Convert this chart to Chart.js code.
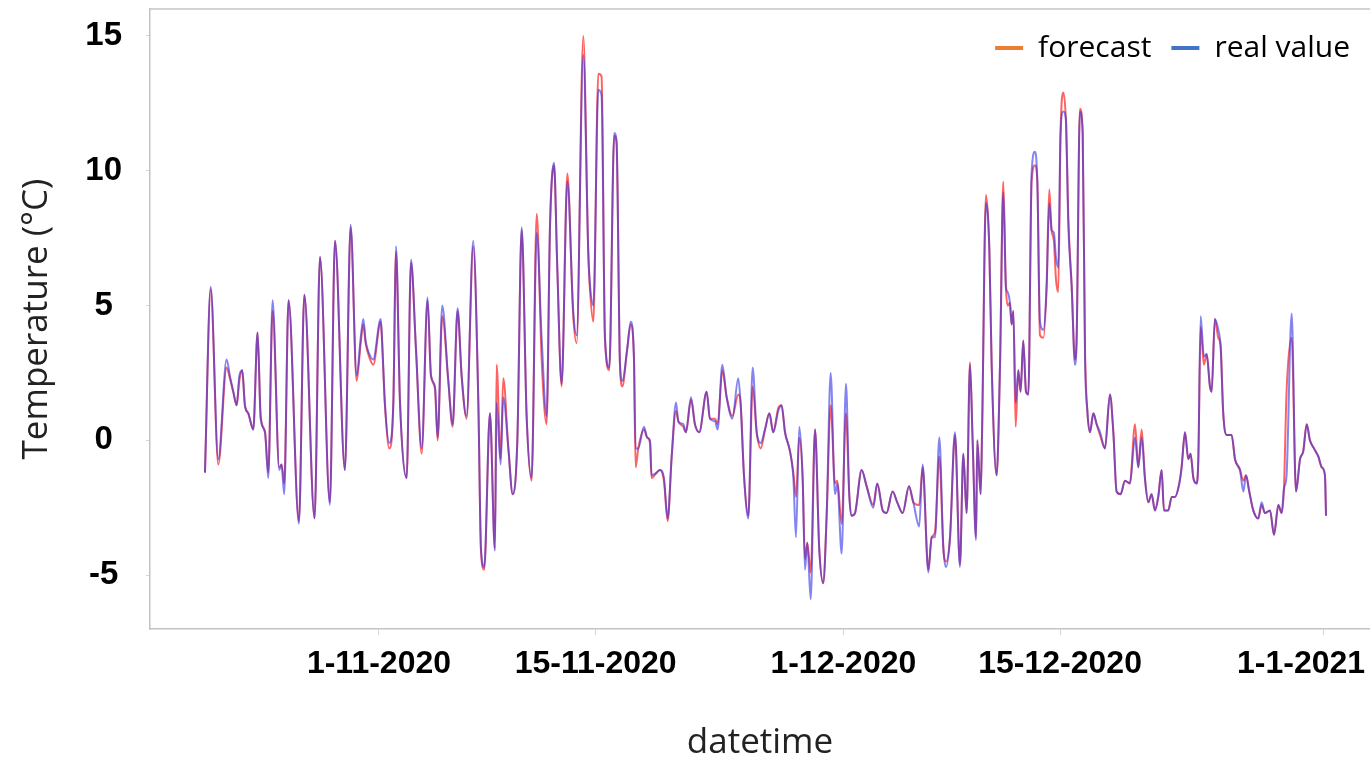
<!DOCTYPE html>
<html>
<head>
<meta charset="utf-8">
<script src="https://cdn.jsdelivr.net/npm/chart.js@4.4.1/dist/chart.umd.min.js"></script>
<style>
  html, body { margin: 0; padding: 0; background: #fff; }
  #chart { display: block; }
</style>
</head>
<body>
<canvas id="chart" width="1370" height="759"></canvas>
<script>
// day offset from 1-11-2020
const days = [
  -11.24, -10.87, -10.38, -9.84, -9.63, -9.41, -9.19, -9.02, -8.83, -8.66, -8.44, -8.12, -7.84, -7.64, -7.36, -7.15,
  -6.87, -6.44, -6.29, -6.12, -5.84, -5.17, -4.82, -4.16, -3.81, -3.17, -2.84, -2.20, -1.83, -1.44, -1.18, -1.01,
  -0.86, -0.69, -0.37, 0.11, 0.17, 0.39, 0.67, 0.93, 1.10, 1.36, 1.79, 2.07, 2.39, 2.76, 3.14, 3.36, 3.62, 3.79,
  4.09, 4.48, 4.76, 5.08, 5.34, 5.66, 6.09, 6.42, 6.59, 6.80, 7.17, 7.49, 7.60, 7.86, 8.03, 8.36, 8.64, 8.94,
  9.22, 9.54, 9.86, 10.19, 10.51, 10.83, 11.05, 11.31, 11.52, 11.80, 12.17, 12.55, 12.77, 13.20, 13.52, 13.63,
  13.85, 14.17, 14.38, 14.60, 14.88, 15.20, 15.35, 15.57, 15.72, 16.04, 16.26, 16.47, 16.58, 16.75, 17.12, 17.33,
  17.51, 17.61, 17.94, 18.15, 18.41, 18.65, 18.91, 19.19, 19.34, 19.66, 19.83, 20.16, 20.41, 20.69, 21.17, 21.38,
  21.71, 21.88, 22.18, 22.46, 22.83, 23.21, 23.36, 23.58, 23.86, 24.14, 24.40, 24.66, 24.94, 25.22, 25.47, 25.80,
  26.01, 26.23, 26.55, 26.77, 26.94, 27.15, 27.37, 27.52, 27.67, 27.89, 28.17, 28.44, 28.70, 28.92, 29.18, 29.46,
  29.61, 29.89, 30.17, 30.38, 30.53, 30.75, 31.18, 31.50, 31.93, 32.19, 32.54, 32.79, 33.18, 33.48, 33.83, 34.24,
  34.52, 34.90, 35.12, 35.49, 35.70, 35.92, 36.20, 36.46, 36.63, 36.89, 37.21, 37.53, 37.75, 37.96, 38.18, 38.35,
  38.57, 38.65, 38.87, 38.96, 39.21, 39.43, 39.58, 39.90, 40.12, 40.33, 40.50, 40.61, 40.76, 40.87, 40.98, 41.13,
  41.30, 41.45, 41.62, 41.80, 41.95, 42.16, 42.38, 42.53, 42.70, 42.92, 43.13, 43.30, 43.45, 43.60, 43.73, 43.88,
  44.03, 44.21, 44.38, 44.53, 44.75, 44.96, 45.07, 45.28, 45.46, 45.61, 45.76, 45.93, 46.15, 46.36, 46.58, 46.90,
  47.22, 47.44, 47.65, 47.91, 48.19, 48.51, 48.84, 49.05, 49.27, 49.48, 49.70, 49.91, 50.13, 50.34, 50.56, 50.71,
  50.99, 51.21, 51.42, 51.70, 51.85, 52.07, 52.28, 52.43, 52.61, 52.82, 52.93, 53.08, 53.29, 53.47, 53.68, 53.79,
  54.00, 54.22, 54.37, 54.54, 54.76, 55.08, 55.30, 55.62, 55.84, 56.01, 56.22, 56.48, 56.80, 57.02, 57.23, 57.56,
  57.82, 58.10, 58.31, 58.46, 58.63, 58.96, 59.24, 59.50, 59.71, 59.93, 60.14, 60.40, 60.68, 60.90, 61.11, 61.18
];

const realValue = [
  -1.2, 5.7, -0.7, 3.0, 2.4, 1.8, 1.3, 2.4, 2.6, 1.3, 1.0, 0.4, 4.0, 0.8, 0.3, -1.4,
  5.2, -1.1, -0.9, -2.0, 5.2, -3.1, 5.4, -2.9, 6.8, -2.4, 7.4, -1.1, 8.0, 2.4, 3.8, 4.5,
  3.7, 3.3, 3.0, 4.5, 4.1, 1.3, -0.1, 1.4, 7.2, 1.4, -1.4, 6.7, 3.4, -0.3, 5.3, 2.4, 2.0, 0.1,
  5.0, 2.2, 0.6, 4.9, 2.4, 0.9, 7.4, 1.4, -4.0, -4.7, 1.0, -4.1, 1.4, -0.9, 1.6, -0.3, -2.0, 0.0,
  7.9, 0.9, -1.4, 7.7, 3.8, 0.9, 8.0, 10.3, 6.4, 2.1, 9.6, 4.8, 3.9, 14.3, 7.0, 5.8,
  5.0, 13.0, 12.8, 3.8, 2.7, 11.4, 11.1, 2.8, 2.2, 3.4, 4.4, 3.1, -0.3, -0.3, 0.5, 0.1,
  0.0, -1.3, -1.2, -1.1, -1.4, -2.9, -0.6, 1.4, 0.7, 0.6, 0.3, 1.6, 0.6, 0.3, 1.8, 0.8,
  0.7, 0.4, 2.8, 1.6, 0.8, 2.3, 1.4, -1.3, -2.9, 2.7, 0.3, -0.1, 0.4, 1.0, 0.3, 1.1,
  1.3, 0.3, -0.4, -1.4, -3.6, 0.5, -1.4, -4.8, -3.8, -5.9, 0.4, -4.0, -5.3, -2.8, 2.5, -2.0,
  -1.6, -4.2, 2.1, -2.0, -2.8, -2.7, -1.1, -1.7, -2.5, -1.6, -2.6, -2.7, -1.9, -2.3, -2.7, -1.7,
  -2.3, -3.2, -0.9, -4.9, -3.6, -3.6, 0.1, -4.0, -4.7, -3.6, 0.3, -4.7, -0.5, -2.7, 2.8, 0.0,
  -3.7, 0.0, -2.0, 0.3, 8.8, 7.1, 2.8, -1.3, 2.8, 9.2, 5.7, 5.5, 5.1, 4.3, 4.8, 1.4,
  2.6, 1.8, 3.7, 1.8, 1.7, 9.9, 10.7, 9.6, 4.4, 4.1, 5.7, 8.8, 7.8, 7.7, 6.8, 6.4,
  11.4, 12.2, 11.9, 8.0, 5.7, 2.8, 3.8, 12.2, 11.4, 3.1, 1.1, 0.3, 1.0, 0.6, 0.3, -0.3,
  1.7, 0.3, -1.9, -2.0, -1.5, -1.6, 0.1, -1.0, 0.1, -1.4, -2.3, -2.0, -2.6, -2.1, -1.1, -2.6,
  -2.6, -2.1, -2.1, -1.6, -1.0, 0.3, -0.7, -0.5, -1.4, -1.6, -0.7, 4.6, 3.1, 3.2, 2.0, 1.8,
  4.5, 4.1, 3.5, 1.0, 0.2, 0.2, -0.7, -1.1, -1.9, -1.3, -1.9, -2.6, -2.9, -2.3, -2.7, -2.6,
  -3.5, -2.4, -2.7, -1.8, -1.3, 4.7, -1.9, -0.7, -0.4, 0.6, 0.0, -0.3, -0.6, -1.0, -1.3, -2.8
];

const forecast = [
  -1.2, 5.6, -0.9, 2.7, 2.3, 1.8, 1.3, 2.2, 2.6, 1.3, 1.0, 0.4, 4.0, 0.9, 0.3, -1.2,
  4.8, -1.0, -0.9, -1.6, 5.2, -3.0, 5.4, -2.9, 6.8, -2.3, 7.4, -1.1, 7.9, 2.2, 3.6, 4.3,
  3.6, 3.2, 2.8, 4.4, 4.0, 1.3, -0.3, 1.4, 7.0, 1.4, -1.4, 6.6, 3.4, -0.5, 5.2, 2.4, 1.9, 0.0,
  4.6, 2.2, 0.5, 4.8, 2.4, 0.8, 7.2, 1.4, -4.1, -4.8, 1.0, -4.0, 2.8, -0.7, 2.3, -0.3, -2.0, 0.0,
  7.8, 0.9, -1.5, 8.4, 3.0, 0.6, 7.9, 10.2, 6.4, 2.0, 9.9, 4.6, 3.6, 15.0, 7.0, 5.6,
  4.4, 13.6, 13.5, 3.8, 2.6, 11.3, 11.0, 2.8, 2.0, 3.4, 4.3, 3.1, -1.0, -0.3, 0.4, 0.1,
  -0.1, -1.4, -1.2, -1.1, -1.5, -3.0, -0.6, 1.1, 0.7, 0.5, 0.3, 1.5, 0.6, 0.3, 1.8, 0.8,
  0.8, 0.6, 2.6, 1.6, 0.9, 1.7, 1.4, -1.3, -2.8, 2.0, 0.3, -0.3, 0.4, 1.0, 0.3, 1.2,
  1.3, 0.3, -0.4, -1.2, -2.1, 0.1, -1.4, -4.4, -3.8, -4.9, 0.4, -4.0, -5.3, -2.8, 1.3, -1.6,
  -1.5, -3.1, 1.0, -2.0, -2.8, -2.7, -1.1, -1.7, -2.4, -1.6, -2.6, -2.7, -1.9, -2.3, -2.7, -1.7,
  -2.3, -2.4, -1.0, -4.8, -3.6, -3.4, -0.6, -4.0, -4.5, -3.6, 0.2, -4.6, -0.5, -2.7, 2.9, 0.0,
  -3.6, 0.0, -2.0, 0.3, 9.1, 7.1, 2.8, -1.3, 2.8, 9.6, 5.7, 5.0, 5.1, 4.3, 4.8, 0.5,
  2.6, 1.8, 3.7, 1.8, 1.7, 9.6, 10.2, 9.6, 3.9, 3.8, 5.7, 9.3, 7.8, 7.4, 6.0, 5.5,
  11.4, 12.9, 11.8, 8.3, 5.7, 3.0, 3.8, 12.3, 11.4, 3.4, 1.1, 0.3, 1.0, 0.6, 0.2, -0.3,
  1.7, 0.3, -1.9, -2.0, -1.5, -1.6, 0.6, -1.0, 0.4, -1.4, -2.3, -2.0, -2.6, -2.1, -1.1, -2.6,
  -2.6, -2.1, -2.1, -1.6, -1.0, 0.3, -0.7, -0.5, -1.4, -1.6, -0.7, 4.2, 2.8, 3.2, 2.0, 1.8,
  4.5, 3.8, 3.5, 1.0, 0.2, 0.2, -0.7, -1.1, -1.5, -1.3, -1.9, -2.6, -2.9, -2.4, -2.7, -2.6,
  -3.5, -2.4, -2.7, -1.8, 1.8, 3.8, -1.9, -0.7, -0.4, 0.6, 0.0, -0.3, -0.6, -1.0, -1.3, -2.8
];

const tickDays = [0, 14, 30, 44, 61];
const tickLabels = ['1-11-2020', '15-11-2020', '1-12-2020', '15-12-2020', '1-1-2021'];
const yTicks = [-5, 0, 5, 10, 15];

const toPoints = (values) => days.map((d, i) => ({ x: d, y: values[i] }));

// grey frame line along the top of the plot area
const topBorder = {
  id: 'topBorder',
  beforeDatasetsDraw(chart) {
    const { ctx, chartArea } = chart;
    ctx.save();
    ctx.strokeStyle = '#c4c4c4';
    ctx.lineWidth = 1.5;
    ctx.beginPath();
    ctx.moveTo(chartArea.left, chartArea.top);
    ctx.lineTo(chartArea.right, chartArea.top);
    ctx.stroke();
    ctx.restore();
  }
};

// the top legend takes no room in the layout, so it sits inside the plot area
const legendInside = {
  id: 'legendInside',
  beforeLayout(chart) {
    const legend = chart.legend;
    if (legend && !legend._inside) {
      const fit = legend.fit.bind(legend);
      legend.fit = function () {
        fit();
        this._realHeight = this.height;
        this.height = 0;
      };
      legend._inside = true;
    }
  },
  afterLayout(chart) {
    const legend = chart.legend;
    if (legend && legend._realHeight) {
      legend.top += 4;
      legend.height = legend._realHeight;
      legend.bottom = legend.top + legend._realHeight;
    }
  }
};

Chart.defaults.font.family = 'Open Sans';

const ctx = document.getElementById('chart').getContext('2d');
new Chart(ctx, {
  type: 'line',
  data: {
    datasets: [
      {
        label: 'forecast',
        data: toPoints(forecast),
        borderColor: 'rgba(255, 70, 70, 0.85)',
        borderWidth: 2,
        pointRadius: 0,
        order: 1,
        cubicInterpolationMode: 'monotone'
      },
      {
        label: 'real value',
        data: toPoints(realValue),
        borderColor: 'rgba(50, 50, 230, 0.6)',
        borderWidth: 2,
        pointRadius: 0,
        order: 0,
        cubicInterpolationMode: 'monotone'
      }
    ]
  },
  options: {
    responsive: false,
    animation: false,
    devicePixelRatio: 1,
    layout: { padding: { top: 9, right: 0, left: 0, bottom: 0 } },
    plugins: {
      tooltip: { enabled: false },
      legend: {
        position: 'top',
        align: 'end',
        labels: {
          usePointStyle: true,
          pointStyleWidth: 28,
          padding: 20,
          color: '#222',
          font: { family: 'Open Sans', size: 30 },
          generateLabels: () => [
            { text: 'forecast', strokeStyle: '#ed7d31', fillStyle: '#ed7d31', lineWidth: 4, pointStyle: 'line', hidden: false, datasetIndex: 0 },
            { text: 'real value', strokeStyle: '#4472c4', fillStyle: '#4472c4', lineWidth: 4, pointStyle: 'line', hidden: false, datasetIndex: 1 }
          ]
        }
      }
    },
    scales: {
      x: {
        type: 'linear',
        min: -14.79,
        max: 64.02,
        afterBuildTicks: (scale) => { scale.ticks = tickDays.map(v => ({ value: v })); },
        afterFit: (scale) => { scale.height = 130; scale.paddingLeft = 0; scale.paddingRight = 0; },
        ticks: {
          autoSkip: false,
          maxRotation: 0,
          padding: 10,
          color: '#000',
          font: { family: 'Liberation Sans', weight: 'bold', size: 32 },
          // last label is pulled left so it stays inside the picture
          callback: (v, i) => i === tickLabels.length - 1 ? tickLabels[i] + '\u00a0\u00a0\u00a0\u00a0\u00a0' : tickLabels[i]
        },
        grid: { drawOnChartArea: false, tickLength: 6, color: '#d6d6d6' },
        border: { display: true, color: '#c4c4c4', width: 1.5 },
        title: {
          display: true,
          text: 'datetime',
          color: '#222',
          font: { family: 'Open Sans', size: 35 },
          padding: { top: 0, bottom: -5 }
        }
      },
      y: {
        min: -7,
        max: 16,
        afterBuildTicks: (scale) => { scale.ticks = yTicks.map(v => ({ value: v })); },
        afterFit: (scale) => { scale.width = 150; scale.paddingTop = 0; scale.paddingBottom = 0; },
        ticks: {
          padding: 24,
          crossAlign: 'center',
          color: '#000',
          font: { family: 'Liberation Sans', weight: 'bold', size: 33 }
        },
        grid: { drawOnChartArea: false, tickLength: 4, color: '#d6d6d6' },
        border: { display: true, color: '#c4c4c4', width: 1.5 },
        title: {
          display: true,
          text: 'Temperature (°C)',
          color: '#222',
          font: { family: 'Open Sans', size: 35 },
          padding: { top: 16, bottom: 0 }
        }
      }
    }
  },
  plugins: [topBorder, legendInside]
});
</script>
</body>
</html>
